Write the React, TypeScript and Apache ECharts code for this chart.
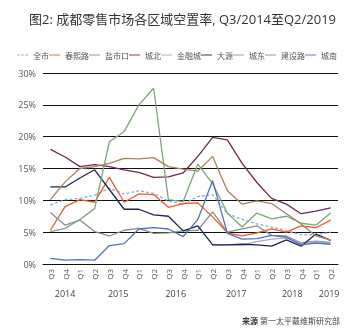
import React, { useEffect, useRef } from "react";
import * as echarts from "echarts";

const quarters = ["Q3","Q4","Q1","Q2","Q3","Q4","Q1","Q2","Q3","Q4","Q1","Q2","Q3","Q4","Q1","Q2","Q3","Q4","Q1","Q2"];
const years = ["2014","2015","2016","2017","2018","2019"];
// year label centres expressed in category-index units
const yearPos = [1.0, 4.6, 8.5, 12.6, 16.4, 18.9];

const quanShi = [9.3,10.1,10.3,10.8,11.9,11.0,11.5,11.1,9.9,9.4,10.6,10.9,7.9,7.0,6.3,5.8,5.2,4.6,4.6,5.0];
const chunXiLu = [5.3,9.0,10.1,9.7,13.6,9.7,11.0,10.9,8.9,9.5,9.6,7.4,4.9,4.4,4.9,5.5,5.0,6.0,5.7,6.9];
const yanShiKou = [8.1,6.1,6.9,5.1,4.4,5.3,5.6,4.8,4.9,5.2,5.3,8.2,5.0,5.5,6.0,4.5,4.4,3.3,3.6,3.4];
const chengBei = [18.0,16.8,15.3,15.6,15.3,14.8,14.4,13.6,13.7,14.3,16.9,19.9,19.5,15.8,12.8,10.3,9.4,7.9,8.3,8.8];
const jinRongCheng = [null,null,null,null,null,null,null,null,null,null,null,3.0,3.0,3.0,3.5,3.9,4.1,3.2,3.5,3.3];
const daYuan = [12.1,12.1,13.5,14.8,11.7,8.6,8.6,7.7,7.5,5.2,6.0,3.0,3.0,3.1,3.0,2.8,3.8,2.8,4.7,3.7];
const chengDong = [5.1,5.6,7.0,8.7,19.2,20.8,25.0,27.6,10.1,9.8,15.7,12.6,8.0,5.8,8.0,7.1,7.5,6.4,6.1,8.0];
const jianSheLu = [10.1,12.9,15.0,15.3,15.8,16.6,16.5,16.7,15.3,14.9,14.6,16.9,11.5,9.4,9.9,9.5,7.9,6.3,4.4,3.8];
const chengNan = [0.9,0.6,0.7,0.6,2.9,3.2,5.5,5.7,5.5,4.3,7.0,13.1,4.8,3.9,4.0,4.5,4.2,3.0,3.3,3.1];

const seriesDefs = [
  { name: "全市", data: quanShi, color: "#8eaadb", dashed: true },
  { name: "春熙路", data: chunXiLu, color: "#ef5a24" },
  { name: "盐市口", data: yanShiKou, color: "#8c8c8c" },
  { name: "城北", data: chengBei, color: "#6a2b4f" },
  { name: "金融城", data: jinRongCheng, color: "#a5adba" },
  { name: "大源", data: daYuan, color: "#1c2552" },
  { name: "城东", data: chengDong, color: "#7ba67b" },
  { name: "建设路", data: jianSheLu, color: "#a8825f" },
  { name: "城南", data: chengNan, color: "#4e73c1" },
];

const FONT = "'Open Sans', 'Noto Sans CJK SC', sans-serif";
const GRID_LEFT = 43;
const GRID_RIGHT = 14;
const W = 352;
const H = 332;
const DASH_ICON = "path://M0,0h3v1h-3z M4.5,0h3v1h-3z M9,0h3v1h-3z";
const SOLID_ICON = "path://M0,0h12v1h-12z";

export default function App() {
  const ref = useRef<HTMLDivElement>(null);
  useEffect(() => {
    if (!ref.current) return;
    const chart = echarts.init(ref.current, undefined, { renderer: "svg" });
    const plotW = W - GRID_LEFT - GRID_RIGHT;
    const band = plotW / quarters.length;
    const yearTexts = years.map((y, i) => ({
      type: "text",
      x: GRID_LEFT + band * (yearPos[i] + 0.5),
      y: 289,
      style: { text: y, fontSize: 9, fill: "#444", fontFamily: FONT, align: "center", textAlign: "center" },
    }));
    chart.setOption({
      animation: false,
      title: {
        text: "图2: 成都零售市场各区域空置率, Q3/2014至Q2/2019",
        left: 24,
        top: 7,
        textStyle: { fontSize: 13, fontWeight: "normal", color: "#333", fontFamily: FONT },
      },
      legend: {
        top: 51,
        left: 17,
        width: 340,
        itemWidth: 11,
        itemHeight: 1.3,
        itemGap: 0,
        padding: 0,
        textStyle: { fontSize: 8, color: "#555", fontFamily: FONT },
        data: seriesDefs.map((s) => ({ name: s.name, icon: s.dashed ? DASH_ICON : SOLID_ICON })),
      },
      grid: { left: GRID_LEFT, right: GRID_RIGHT, top: 73, bottom: 68 },
      xAxis: {
        type: "category",
        data: quarters,
        boundaryGap: true,
        axisLine: { lineStyle: { color: "#111", width: 1 } },
        axisTick: { show: false },
        axisLabel: { rotate: 90, fontSize: 8, color: "#555", margin: 5, fontFamily: FONT, interval: 0 },
      },
      yAxis: {
        type: "value",
        min: 0,
        max: 30,
        interval: 5,
        axisLine: { show: false },
        axisTick: { show: false },
        axisLabel: { formatter: "{value}%", fontSize: 9, color: "#555", margin: 7, fontFamily: FONT },
        splitLine: { lineStyle: { color: "#111", width: 1 } },
      },
      series: seriesDefs.map((s) => ({
        name: s.name,
        type: "line",
        data: s.data,
        symbol: "none",
        connectNulls: false,
        color: s.color,
        lineStyle: { color: s.color, width: 1.3, type: s.dashed ? [3, 2] : "solid" },
      })),
      graphic: [
        ...yearTexts,
        {
          type: "text",
          right: 12,
          top: 316,
          style: {
            text: "{b|来源} 第一太平戴维斯研究部",
            fontSize: 8,
            fill: "#444",
            fontFamily: FONT,
            rich: { b: { fontWeight: "bold", fontSize: 8, fill: "#333", fontFamily: FONT } },
          },
        },
      ],
    });
    return () => chart.dispose();
  }, []);
  return <div ref={ref} style={{ position: "fixed", left: 0, top: 0, width: W, height: H }} />;
}
